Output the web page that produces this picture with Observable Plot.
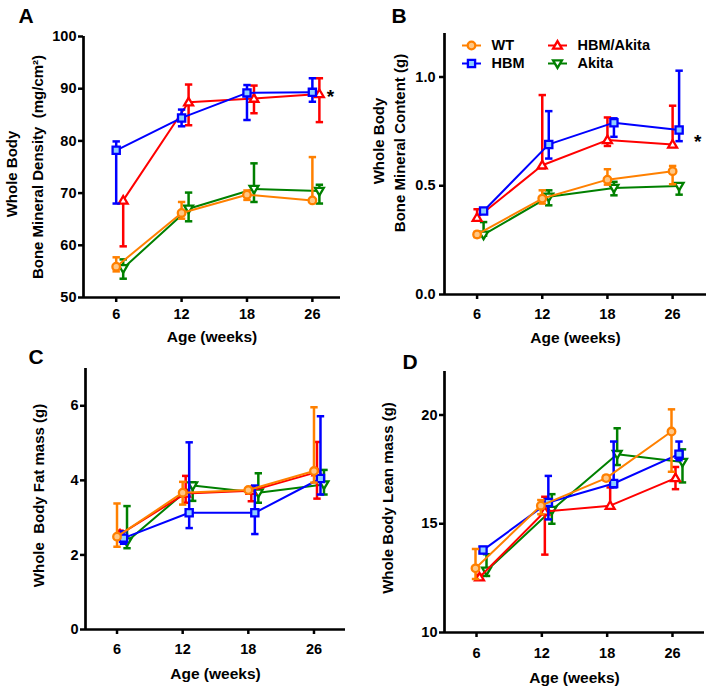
<!DOCTYPE html>
<html><head><meta charset="utf-8">
<script src="https://cdn.jsdelivr.net/npm/d3@7"></script>
<script src="https://cdn.jsdelivr.net/npm/@observablehq/plot@0.6"></script>
<style>
body{margin:0;background:#fff;}
#wrap{position:relative;width:709px;height:690px;overflow:hidden;background:#fff;}
.panel{position:absolute;}
</style></head><body><div id="wrap"></div>
<script>
// ---------- data ----------
const ages = [6, 12, 18, 26];
const groups = ["WT", "HBM", "HBM/Akita", "Akita"];

// A: Whole body bone mineral density (mg/cm2)
const bmdWT   = [55.9, 66.2, 69.7, 68.6];
const bmdWTlo = [55.0, 65.1, 68.7, 68.6];
const bmdWThi = [57.7, 68.3, 70.5, 76.9];
const bmdHBM   = [78.2, 84.4, 89.2, 89.3];
const bmdHBMlo = [68.0, 82.8, 84.0, 87.5];
const bmdHBMhi = [79.9, 86.0, 90.7, 92.0];
const bmdHA   = [68.6, 87.4, 88.1, 89.0];
const bmdHAlo = [59.8, 83.0, 85.3, 83.6];
const bmdHAhi = [68.6, 90.8, 90.6, 92.0];
const bmdAk   = [55.6, 67.0, 70.8, 70.4];
const bmdAklo = [53.6, 64.6, 68.3, 68.0];
const bmdAkhi = [57.3, 70.1, 75.7, 71.6];

// B: Whole body bone mineral content (g)
const bmcWT   = [0.276, 0.441, 0.528, 0.567];
const bmcWTlo = [0.264, 0.418, 0.505, 0.507];
const bmcWThi = [0.288, 0.479, 0.576, 0.591];
const bmcHBM   = [0.384, 0.690, 0.790, 0.756];
const bmcHBMlo = [0.374, 0.625, 0.725, 0.705];
const bmcHBMhi = [0.394, 0.843, 0.810, 1.029];
const bmcHA   = [0.353, 0.594, 0.710, 0.690];
const bmcHAlo = [0.340, 0.580, 0.683, 0.679];
const bmcHAhi = [0.392, 0.917, 0.814, 0.868];
const bmcAk   = [0.275, 0.449, 0.490, 0.499];
const bmcAklo = [0.270, 0.410, 0.456, 0.459];
const bmcAkhi = [0.333, 0.479, 0.518, 0.510];

// C: Whole body fat mass (g)
const fatWT   = [2.49, 3.67, 3.74, 4.25];
const fatWTlo = [2.22, 3.35, 3.69, 3.94];
const fatWThi = [3.38, 3.96, 3.79, 5.96];
const fatHBM   = [2.45, 3.13, 3.13, 4.05];
const fatHBMlo = [2.30, 2.72, 2.56, 3.62];
const fatHBMhi = [2.63, 5.02, 3.86, 5.72];
const fatHA   = [2.55, 3.65, 3.72, 4.22];
const fatHAlo = [2.45, 3.40, 3.44, 3.51];
const fatHAhi = [2.65, 4.12, 3.80, 5.03];
const fatAk   = [2.36, 3.86, 3.67, 3.89];
const fatAklo = [2.18, 3.45, 3.40, 3.62];
const fatAkhi = [3.31, 3.95, 4.19, 4.28];

// D: Whole body lean mass (g)
const leanWT   = [12.95, 15.83, 17.10, 19.24];
const leanWTlo = [12.46, 15.44, 17.00, 17.39];
const leanWThi = [13.84, 16.09, 17.20, 20.26];
const leanHBM   = [13.79, 15.98, 16.85, 18.20];
const leanHBMlo = [13.65, 15.20, 16.67, 17.92];
const leanHBMhi = [13.93, 17.20, 18.78, 18.78];
const leanHA   = [12.54, 15.56, 15.83, 17.10];
const leanHAlo = [12.45, 13.58, 15.83, 16.59];
const leanHAhi = [12.65, 16.24, 16.67, 17.61];
const leanAk   = [12.84, 15.63, 18.20, 17.84];
const leanAklo = [12.60, 15.00, 17.70, 16.90];
const leanAkhi = [13.60, 16.36, 19.39, 18.42];

// ---------- styling ----------
const FONT = '"Liberation Sans", Arial, Helvetica, sans-serif';
const squareSym = {draw(c, s){ const r = Math.sqrt(s/Math.PI); c.moveTo(-r,-r); c.lineTo(r,-r); c.lineTo(r,r); c.lineTo(-r,r); c.closePath(); }};
const upSym = {draw(c, s){ const r = Math.sqrt(s/Math.PI); c.moveTo(0,-r*1.2); c.lineTo(r*1.2, r*0.85); c.lineTo(-r*1.2, r*0.85); c.closePath(); }};
const downSym = {draw(c, s){ const r = Math.sqrt(s/Math.PI); c.moveTo(0, r*1.2); c.lineTo(r*1.2,-r*0.85); c.lineTo(-r*1.2,-r*0.85); c.closePath(); }};
const capSym = {draw(c, s){ const r = Math.sqrt(s/Math.PI); c.moveTo(-r,0); c.lineTo(r,0); }};

const gstyle = {
  "WT":        {stroke:"#ff8000", fill:"#ffc785", symbol:"circle", r:3.8},
  "HBM":       {stroke:"#0000ff", fill:"#8fcfff", symbol:squareSym, r:3.6},
  "HBM/Akita": {stroke:"#ff0000", fill:"#ffffff", symbol:upSym, r:3.7},
  "Akita":     {stroke:"#008000", fill:"#ffffff", symbol:downSym, r:3.7}
};
const drawOrder = ["Akita", "HBM/Akita", "HBM", "WT"];

function rows(m, lo, hi){ return ages.map((a,i) => ({xi:i, age:a, y:m[i], lo:lo[i], hi:hi[i]})); }

const panels = [
  {letter:"A", left:0, top:0, width:354, height:350, ml:83, mr:14, mt:36, mb:53,
   xdom:[-0.5,3.43], ydom:[50,100], yticks:[50,60,70,80,90,100], yfmt:d=>d, ypad:2, xpad:6,
   series:{"WT":rows(bmdWT,bmdWTlo,bmdWThi),"HBM":rows(bmdHBM,bmdHBMlo,bmdHBMhi),"HBM/Akita":rows(bmdHA,bmdHAlo,bmdHAhi),"Akita":rows(bmdAk,bmdAklo,bmdAkhi)},
   dx:{"WT":0,"HBM":0,"HBM/Akita":7,"Akita":7},
   ytitle:[["Whole Body",-71,7],["Bone Mineral Density  (mg/cm\u00b2)",-45,0]],
   letterPos:[-65,-14], xtitleDy:40,
   star:{y:bmdHBM[3], dx:18}},
  {letter:"B", left:354, top:0, width:355, height:350, ml:90, mr:3, mt:33, mb:56,
   xdom:[-0.5,3.52], ydom:[0,1.2], yticks:[0,0.5,1.0], yfmt:d3.format(".1f"), ypad:4, xpad:9,
   series:{"WT":rows(bmcWT,bmcWTlo,bmcWThi),"HBM":rows(bmcHBM,bmcHBMlo,bmcHBMhi),"HBM/Akita":rows(bmcHA,bmcHAlo,bmcHAhi),"Akita":rows(bmcAk,bmcAklo,bmcAkhi)},
   dx:{"WT":0,"HBM":6.5,"HBM/Akita":0,"Akita":6.5},
   ytitle:[["Whole Body",-65,-23],["Bone Mineral Content (g)",-44,-21]],
   letterPos:[-53,-11], xtitleDy:44, legend:true,
   star:{y:(bmcHBM[3]+bmcHA[3])/2, dx:25}},
  {letter:"C", left:0, top:340, width:354, height:350, ml:85, mr:9, mt:28, mb:61,
   xdom:[-0.48,3.48], ydom:[0,7], yticks:[0,2,4,6], yfmt:d=>d, ypad:2, xpad:9,
   series:{"WT":rows(fatWT,fatWTlo,fatWThi),"HBM":rows(fatHBM,fatHBMlo,fatHBMhi),"HBM/Akita":rows(fatHA,fatHAlo,fatHAhi),"Akita":rows(fatAk,fatAklo,fatAkhi)},
   dx:{"WT":0,"HBM":6.5,"HBM/Akita":3,"Akita":10},
   ytitle:[["Whole  Body Fat mass (g)",-46,-3.5]],
   letterPos:[-57,-5], xtitleDy:45},
  {letter:"D", left:354, top:340, width:355, height:350, ml:90, mr:5, mt:31, mb:58,
   xdom:[-0.49,3.49], ydom:[10,22], yticks:[10,15,20], yfmt:d=>d, ypad:2, xpad:10,
   series:{"WT":rows(leanWT,leanWTlo,leanWThi),"HBM":rows(leanHBM,leanHBMlo,leanHBMhi),"HBM/Akita":rows(leanHA,leanHAlo,leanHAhi),"Akita":rows(leanAk,leanAklo,leanAkhi)},
   dx:{"WT":-1,"HBM":6.5,"HBM/Akita":3,"Akita":10},
   ytitle:[["Whole Body Lean mass (g)",-56,-4]],
   letterPos:[-42,-3], xtitleDy:46}
];

function makePanel(p){
  const marks = [];
  // axes
  marks.push(Plot.axisY(p.yticks, {tickSize:5, tickPadding:p.ypad, tickFormat:p.yfmt, strokeWidth:2.5, fontSize:14.5, fontWeight:"bold", label:null}));
  marks.push(Plot.axisX([0,1,2,3], {tickSize:5, tickPadding:p.xpad, tickFormat:i => ages[i], strokeWidth:2.5, fontSize:14.5, fontWeight:"bold", label:null}));
  marks.push(Plot.ruleX([p.xdom[0]], {stroke:"#000", strokeWidth:2.7}));
  marks.push(Plot.ruleY([p.ydom[0]], {stroke:"#000", strokeWidth:2.7}));
  // series
  for (const g of drawOrder){
    const s = gstyle[g], d = p.series[g], dx = p.dx[g];
    marks.push(Plot.line(d, {x:"xi", y:"y", stroke:s.stroke, strokeWidth:2, dx}));
    marks.push(Plot.ruleX(d, {x:"xi", y1:"lo", y2:"hi", stroke:s.stroke, strokeWidth:2.5, dx}));
    marks.push(Plot.dot(d.filter(r => r.hi > r.y), {x:"xi", y:"hi", symbol:capSym, r:3.7, stroke:s.stroke, strokeWidth:2.5, fill:"none", dx}));
    marks.push(Plot.dot(d.filter(r => r.lo < r.y), {x:"xi", y:"lo", symbol:capSym, r:3.7, stroke:s.stroke, strokeWidth:2.5, fill:"none", dx}));
    marks.push(Plot.dot(d, {x:"xi", y:"y", symbol:s.symbol, r:s.r, stroke:s.stroke, fill:s.fill, strokeWidth:2.3, dx}));
  }
  // titles
  for (const [t, dx, dy] of p.ytitle){
    marks.push(Plot.text([t], {text:d=>d, frameAnchor:"left", textAnchor:"middle", lineAnchor:"middle", rotate:-90, dx, dy, fontSize:15, fontWeight:"bold", fill:"#000"}));
  }
  marks.push(Plot.text(["Age (weeks)"], {text:d=>d, frameAnchor:"bottom", textAnchor:"middle", dy:p.xtitleDy, lineAnchor:"middle", fontSize:15.5, fontWeight:"bold", fill:"#000"}));
  marks.push(Plot.text([p.letter], {text:d=>d, frameAnchor:"top-left", textAnchor:"start", lineAnchor:"bottom", dx:p.letterPos[0], dy:p.letterPos[1], fontSize:21, fontWeight:"bold", fill:"#000"}));
  if (p.star){
    marks.push(Plot.text([p.star], {x:()=>3, y:"y", text:()=>"*", dx:p.star.dx, dy:4.5, lineAnchor:"middle", fontSize:19, fontWeight:"bold", fill:"#000"}));
  }
  if (p.legend){
    const pos = {"WT":[27,12], "HBM":[27,30], "HBM/Akita":[113,12], "Akita":[113,30]};
    for (const g of groups){
      const s = gstyle[g], [lx, ly] = pos[g];
      marks.push(Plot.dot([g], {frameAnchor:"top-left", dx:lx, dy:ly, symbol:capSym, r:9.5, stroke:s.stroke, strokeWidth:2, fill:"none"}));
      marks.push(Plot.dot([g], {frameAnchor:"top-left", dx:lx, dy:ly, symbol:s.symbol, r:s.r, stroke:s.stroke, fill:s.fill, strokeWidth:2.3}));
      marks.push(Plot.text([g], {text:d=>d, frameAnchor:"top-left", dx:lx+20, dy:ly, textAnchor:"start", lineAnchor:"middle", fontSize:14.5, fontWeight:"bold", fill:"#000"}));
    }
  }
  return Plot.plot({
    width:p.width, height:p.height,
    marginLeft:p.ml, marginRight:p.mr, marginTop:p.mt, marginBottom:p.mb,
    x:{type:"linear", domain:p.xdom},
    y:{type:"linear", domain:p.ydom},
    style:{fontFamily:FONT, fontWeight:"bold", fontSize:"14.5px", color:"#000", background:"transparent", overflow:"visible"},
    marks
  });
}

const wrap = document.getElementById("wrap");
for (const p of panels){
  const div = document.createElement("div");
  div.className = "panel";
  div.style.left = p.left + "px";
  div.style.top = p.top + "px";
  div.appendChild(makePanel(p));
  wrap.appendChild(div);
}
</script>
</body></html>
